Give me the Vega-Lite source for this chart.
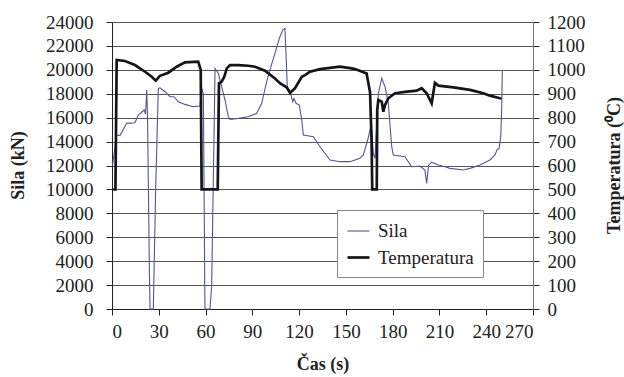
{
  "$schema": "https://vega.github.io/schema/vega-lite/v6.json",
  "width": 421,
  "height": 287,
  "autosize": {"type": "none"},
  "padding": {"left": 112, "top": 22, "right": 91, "bottom": 68},
  "background": "white",
  "config": {
    "font": "Liberation Serif",
    "view": {"stroke": null},
    "axis": {"labelFont": "Liberation Serif", "titleFont": "Liberation Serif", "labelColor": "#222", "titleColor": "#222"}
  },
  "datasets": {
    "d": [
      {"s": "Sila", "t": 0.3, "v": 12000},
      {"s": "Sila", "t": 0.8, "v": 12460},
      {"s": "Sila", "t": 3.0, "v": 14550},
      {"s": "Sila", "t": 5.1, "v": 14500},
      {"s": "Sila", "t": 9.4, "v": 15525},
      {"s": "Sila", "t": 14.7, "v": 15580},
      {"s": "Sila", "t": 16.9, "v": 16220},
      {"s": "Sila", "t": 20.7, "v": 16640},
      {"s": "Sila", "t": 21.5, "v": 16300},
      {"s": "Sila", "t": 22.3, "v": 18310},
      {"s": "Sila", "t": 22.8, "v": 16000},
      {"s": "Sila", "t": 24.0, "v": 3000},
      {"s": "Sila", "t": 24.4, "v": 0},
      {"s": "Sila", "t": 26.5, "v": 0},
      {"s": "Sila", "t": 28.0, "v": 10000},
      {"s": "Sila", "t": 29.7, "v": 18450},
      {"s": "Sila", "t": 30.8, "v": 18500},
      {"s": "Sila", "t": 34.0, "v": 18170},
      {"s": "Sila", "t": 37.2, "v": 17750},
      {"s": "Sila", "t": 39.8, "v": 17750},
      {"s": "Sila", "t": 42.5, "v": 17330},
      {"s": "Sila", "t": 46.8, "v": 17110},
      {"s": "Sila", "t": 52.1, "v": 16920},
      {"s": "Sila", "t": 56.4, "v": 16970},
      {"s": "Sila", "t": 57.5, "v": 18450},
      {"s": "Sila", "t": 58.6, "v": 18000},
      {"s": "Sila", "t": 59.6, "v": 0},
      {"s": "Sila", "t": 62.8, "v": 0},
      {"s": "Sila", "t": 63.9, "v": 1800},
      {"s": "Sila", "t": 66.1, "v": 20120},
      {"s": "Sila", "t": 68.2, "v": 19710},
      {"s": "Sila", "t": 70.3, "v": 18590},
      {"s": "Sila", "t": 72.5, "v": 17470},
      {"s": "Sila", "t": 74.6, "v": 16080},
      {"s": "Sila", "t": 75.7, "v": 15860},
      {"s": "Sila", "t": 81.0, "v": 15940},
      {"s": "Sila", "t": 87.4, "v": 16080},
      {"s": "Sila", "t": 92.8, "v": 16360},
      {"s": "Sila", "t": 96.0, "v": 17200},
      {"s": "Sila", "t": 99.2, "v": 19010},
      {"s": "Sila", "t": 101.3, "v": 19990},
      {"s": "Sila", "t": 104.5, "v": 21380},
      {"s": "Sila", "t": 107.7, "v": 22770},
      {"s": "Sila", "t": 109.5, "v": 23330},
      {"s": "Sila", "t": 110.9, "v": 23470},
      {"s": "Sila", "t": 111.6, "v": 21380},
      {"s": "Sila", "t": 112.4, "v": 18590},
      {"s": "Sila", "t": 114.2, "v": 18170},
      {"s": "Sila", "t": 115.9, "v": 17330},
      {"s": "Sila", "t": 116.7, "v": 17600},
      {"s": "Sila", "t": 118.0, "v": 17200},
      {"s": "Sila", "t": 120.1, "v": 17060},
      {"s": "Sila", "t": 121.7, "v": 15800},
      {"s": "Sila", "t": 122.7, "v": 14550},
      {"s": "Sila", "t": 129.1, "v": 14410},
      {"s": "Sila", "t": 133.4, "v": 13570},
      {"s": "Sila", "t": 139.8, "v": 12460},
      {"s": "Sila", "t": 146.2, "v": 12320},
      {"s": "Sila", "t": 152.6, "v": 12320},
      {"s": "Sila", "t": 159.0, "v": 12600},
      {"s": "Sila", "t": 161.2, "v": 12880},
      {"s": "Sila", "t": 164.0, "v": 14130},
      {"s": "Sila", "t": 165.5, "v": 15000},
      {"s": "Sila", "t": 166.4, "v": 15300},
      {"s": "Sila", "t": 167.6, "v": 13000},
      {"s": "Sila", "t": 168.7, "v": 12600},
      {"s": "Sila", "t": 169.6, "v": 15000},
      {"s": "Sila", "t": 170.8, "v": 18000},
      {"s": "Sila", "t": 173.0, "v": 19290},
      {"s": "Sila", "t": 175.1, "v": 18590},
      {"s": "Sila", "t": 177.2, "v": 17200},
      {"s": "Sila", "t": 179.4, "v": 13570},
      {"s": "Sila", "t": 180.4, "v": 12880},
      {"s": "Sila", "t": 187.9, "v": 12740},
      {"s": "Sila", "t": 192.2, "v": 11900},
      {"s": "Sila", "t": 197.5, "v": 11950},
      {"s": "Sila", "t": 200.7, "v": 11620},
      {"s": "Sila", "t": 201.8, "v": 10510},
      {"s": "Sila", "t": 203.0, "v": 12000},
      {"s": "Sila", "t": 205.0, "v": 12280},
      {"s": "Sila", "t": 209.3, "v": 12040},
      {"s": "Sila", "t": 213.6, "v": 11900},
      {"s": "Sila", "t": 216.8, "v": 11760},
      {"s": "Sila", "t": 225.3, "v": 11620},
      {"s": "Sila", "t": 229.6, "v": 11760},
      {"s": "Sila", "t": 236.0, "v": 12040},
      {"s": "Sila", "t": 242.4, "v": 12460},
      {"s": "Sila", "t": 245.6, "v": 12880},
      {"s": "Sila", "t": 247.1, "v": 13350},
      {"s": "Sila", "t": 248.2, "v": 13400},
      {"s": "Sila", "t": 249.3, "v": 14410},
      {"s": "Sila", "t": 249.9, "v": 16640},
      {"s": "Sila", "t": 250.3, "v": 20000},
      {"s": "Temperatura", "t": 0.8, "v": 500},
      {"s": "Temperatura", "t": 2.2, "v": 500},
      {"s": "Temperatura", "t": 3.0, "v": 1041},
      {"s": "Temperatura", "t": 8.3, "v": 1037},
      {"s": "Temperatura", "t": 14.7, "v": 1020},
      {"s": "Temperatura", "t": 21.2, "v": 992},
      {"s": "Temperatura", "t": 25.5, "v": 971},
      {"s": "Temperatura", "t": 28.0, "v": 955},
      {"s": "Temperatura", "t": 30.8, "v": 975},
      {"s": "Temperatura", "t": 36.1, "v": 988},
      {"s": "Temperatura", "t": 41.5, "v": 1013},
      {"s": "Temperatura", "t": 46.8, "v": 1031},
      {"s": "Temperatura", "t": 55.3, "v": 1034},
      {"s": "Temperatura", "t": 56.9, "v": 1000},
      {"s": "Temperatura", "t": 57.5, "v": 500},
      {"s": "Temperatura", "t": 67.8, "v": 500},
      {"s": "Temperatura", "t": 68.6, "v": 944},
      {"s": "Temperatura", "t": 70.3, "v": 950},
      {"s": "Temperatura", "t": 72.0, "v": 971},
      {"s": "Temperatura", "t": 73.6, "v": 1006},
      {"s": "Temperatura", "t": 75.7, "v": 1020},
      {"s": "Temperatura", "t": 81.0, "v": 1020},
      {"s": "Temperatura", "t": 87.4, "v": 1017},
      {"s": "Temperatura", "t": 91.7, "v": 1013},
      {"s": "Temperatura", "t": 98.1, "v": 996},
      {"s": "Temperatura", "t": 104.5, "v": 964},
      {"s": "Temperatura", "t": 107.7, "v": 944},
      {"s": "Temperatura", "t": 112.0, "v": 927},
      {"s": "Temperatura", "t": 114.2, "v": 904},
      {"s": "Temperatura", "t": 117.4, "v": 923},
      {"s": "Temperatura", "t": 121.7, "v": 971},
      {"s": "Temperatura", "t": 123.8, "v": 978},
      {"s": "Temperatura", "t": 127.0, "v": 992},
      {"s": "Temperatura", "t": 133.4, "v": 1003},
      {"s": "Temperatura", "t": 146.2, "v": 1013},
      {"s": "Temperatura", "t": 154.7, "v": 1005},
      {"s": "Temperatura", "t": 158.0, "v": 998},
      {"s": "Temperatura", "t": 163.3, "v": 985},
      {"s": "Temperatura", "t": 165.5, "v": 906},
      {"s": "Temperatura", "t": 166.5, "v": 695},
      {"s": "Temperatura", "t": 166.9, "v": 500},
      {"s": "Temperatura", "t": 169.8, "v": 500},
      {"s": "Temperatura", "t": 170.1, "v": 832},
      {"s": "Temperatura", "t": 170.8, "v": 874},
      {"s": "Temperatura", "t": 173.0, "v": 867},
      {"s": "Temperatura", "t": 174.0, "v": 825},
      {"s": "Temperatura", "t": 175.1, "v": 853},
      {"s": "Temperatura", "t": 177.2, "v": 881},
      {"s": "Temperatura", "t": 181.5, "v": 902},
      {"s": "Temperatura", "t": 187.9, "v": 908},
      {"s": "Temperatura", "t": 195.4, "v": 913},
      {"s": "Temperatura", "t": 198.6, "v": 923},
      {"s": "Temperatura", "t": 201.8, "v": 902},
      {"s": "Temperatura", "t": 205.0, "v": 860},
      {"s": "Temperatura", "t": 207.1, "v": 946},
      {"s": "Temperatura", "t": 209.3, "v": 934},
      {"s": "Temperatura", "t": 218.9, "v": 927},
      {"s": "Temperatura", "t": 229.6, "v": 916},
      {"s": "Temperatura", "t": 238.1, "v": 902},
      {"s": "Temperatura", "t": 242.4, "v": 892},
      {"s": "Temperatura", "t": 248.8, "v": 881},
      {"s": "Temperatura", "t": 249.9, "v": 880}
    ]
  },
  "data": {"name": "d"},
  "encoding": {
    "x": {
      "field": "t", "type": "quantitative",
      "scale": {"domain": [0, 270], "nice": false, "zero": false},
      "axis": {
        "title": "Čas (s)", "values": [0, 30, 60, 90, 120, 150, 180, 210, 240, 270],
        "grid": false, "domainColor": "#222", "tickColor": "#222", "tickSize": 6,
        "labelFontSize": 19, "labelPadding": 7, "titleFontSize": 18, "titleFontWeight": "bold", "titlePadding": 14
      }
    },
    "color": {
      "field": "s", "type": "nominal",
      "scale": {"domain": ["Sila", "Temperatura"], "range": ["#55559a", "#151515"]},
      "legend": {
        "title": null, "orient": "none", "legendX": 225, "legendY": 188,
        "symbolType": "stroke", "symbolSize": 484, "labelFontSize": 19, "labelFont": "Liberation Serif",
        "labelColor": "#222", "fillColor": "white", "strokeColor": "#888", "padding": 9, "rowPadding": 4,
        "labelOffset": 7
      }
    },
    "strokeWidth": {
      "field": "s", "type": "nominal",
      "scale": {"domain": ["Sila", "Temperatura"], "range": [1.1, 2.7]},
      "legend": {
        "title": null, "orient": "none", "legendX": 225, "legendY": 188,
        "symbolType": "stroke", "symbolSize": 484, "labelFontSize": 19, "labelFont": "Liberation Serif",
        "labelColor": "#222", "fillColor": "white", "strokeColor": "#888", "padding": 9, "rowPadding": 4,
        "labelOffset": 7
      }
    }
  },
  "layer": [
    {
      "transform": [{"filter": "datum.s === 'Sila'"}],
      "mark": {"type": "line", "interpolate": "linear"},
      "encoding": {
        "y": {
          "field": "v", "type": "quantitative",
          "scale": {"domain": [0, 24000], "nice": false},
          "axis": {
            "title": "Sila (kN)", "orient": "left",
            "values": [0, 2000, 4000, 6000, 8000, 10000, 12000, 14000, 16000, 18000, 20000, 22000, 24000],
            "format": "d", "grid": true, "gridColor": "#555", "gridWidth": 1,
            "domainColor": "#222", "tickColor": "#222", "tickSize": 6,
            "labelFontSize": 19, "labelPadding": 13, "titleFontSize": 18, "titleFontWeight": "bold",
            "titleX": -94, "titleY": 143, "titleAngle": -90, "titleAlign": "center", "titleBaseline": "middle"
          }
        }
      }
    },
    {
      "transform": [{"filter": "datum.s === 'Temperatura'"}],
      "mark": {"type": "line", "interpolate": "linear"},
      "encoding": {
        "y": {
          "field": "v", "type": "quantitative",
          "scale": {"domain": [0, 1200], "nice": false},
          "axis": {
            "title": "Temperatura (⁰C)", "orient": "right",
            "values": [0, 100, 200, 300, 400, 500, 600, 700, 800, 900, 1000, 1100, 1200],
            "format": "d", "grid": false,
            "domainColor": "#777", "tickColor": "#222", "tickSize": 6,
            "labelFontSize": 19, "labelPadding": 8, "titleFontSize": 18, "titleFontWeight": "bold",
            "titleX": 81, "titleY": 143, "titleAngle": -90, "titleAlign": "center", "titleBaseline": "middle"
          }
        }
      }
    }
  ],
  "resolve": {"scale": {"y": "independent"}, "axis": {"y": "independent"}}
}
